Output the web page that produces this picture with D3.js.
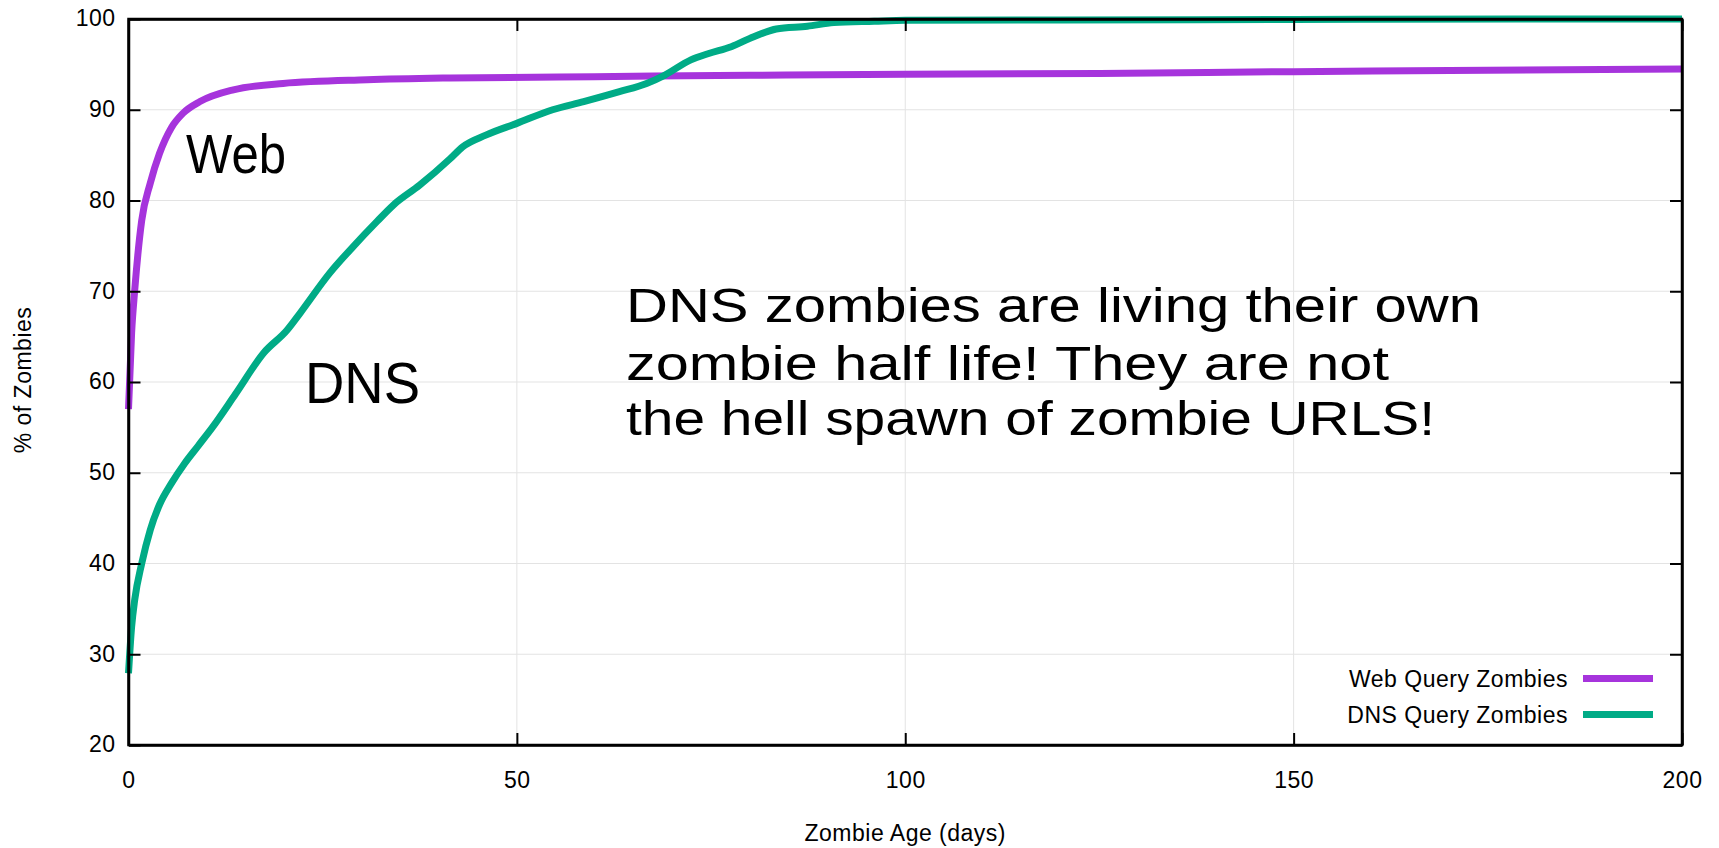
<!DOCTYPE html>
<html>
<head>
<meta charset="utf-8">
<script src="https://d3js.org/d3.v7.min.js"></script>
<style>
  html, body { margin: 0; padding: 0; background: #fff; }
  svg { display: block; }
  .lbl { font-family: "Liberation Sans", Arial, Helvetica, sans-serif; font-size: 23px; letter-spacing: 0.5px; fill: #000; }
  .hand { font-family: "Liberation Sans Narrow", "Liberation Sans", sans-serif; fill: #000; }
</style>
</head>
<body>
<svg id="chart" width="1719" height="848"></svg>
<script>
// ---- data ----
const webDays = [0, 0.4, 0.8, 1.7, 2.8, 4, 5.5, 7, 9.2, 13.5, 19.9, 30.7, 41.4, 60, 80, 100, 125, 150, 175, 200];
const webPct  = [57, 65.4, 70.1, 77.8, 81.9, 85.2, 88, 89.6, 90.9, 92.2, 92.9, 93.3, 93.5, 93.65, 93.8, 93.9, 94.0, 94.2, 94.35, 94.5];

const dnsDays = [0, 0.4, 0.8, 1.7, 2.8, 4, 5.5, 7.2, 9, 10.8, 13.8, 17.4, 20.4, 22.1, 25.9, 28.9, 32, 34.1, 37.5, 41.4, 43, 46, 50, 54.6, 58.6, 63.2, 66.7, 69, 72.4, 74.7, 77.6, 80.5, 83.4, 87.4, 90.8, 96, 100, 120, 150, 180, 200];
const dnsPct  = [27.9, 33, 36, 40, 43.7, 46.5, 48.8, 51, 53, 55, 58.7, 63.2, 65.7, 67.6, 72, 74.9, 77.7, 79.5, 81.7, 84.6, 85.9, 87.2, 88.5, 90, 90.9, 92, 92.9, 93.8, 95.5, 96.2, 96.95, 98.05, 98.9, 99.2, 99.6, 99.75, 99.85, 99.9, 99.95, 100, 100];

const xTicks = [0, 50, 100, 150, 200];
const yTicks = [20, 30, 40, 50, 60, 70, 80, 90, 100];

const seriesNames = ["Web Query Zombies", "DNS Query Zombies"];
const seriesColors = ["#a634dc", "#00ab86"];

const noteLines = ["DNS zombies are living their own", "zombie half life! They are not", "the hell spawn of zombie URLS!"];

// ---- layout ----
const svg = d3.select("#chart");
const L = 128.5, R = 1682, T = 19, B = 745;
const x = d3.scaleLinear().domain([0, 200]).range([L, R]);
const y = d3.scaleLinear().domain([20, 100]).range([B, T]);

// grid
const grid = svg.append("g");
grid.selectAll("line.gx").data(xTicks.slice(1, -1)).join("line")
  .attr("x1", d => x(d)).attr("x2", d => x(d)).attr("y1", T).attr("y2", B)
  .attr("stroke", "#e3e3e3").attr("stroke-width", 1);
grid.selectAll("line.gy").data(yTicks.slice(1, -1)).join("line")
  .attr("x1", L).attr("x2", R).attr("y1", d => y(d)).attr("y2", d => y(d))
  .attr("stroke", "#e3e3e3").attr("stroke-width", 1);

// lines
const line = d3.line().x(d => x(d[0])).y(d => y(d[1])).curve(d3.curveMonotoneX);
const webData = webDays.map((d, i) => [d, webPct[i]]);
const dnsData = dnsDays.map((d, i) => [d, dnsPct[i]]);
[webData, dnsData].forEach((data, i) => {
  svg.append("path").datum(data)
    .attr("d", line)
    .attr("fill", "none")
    .attr("stroke", seriesColors[i])
    .attr("stroke-width", 7)
    .attr("stroke-linejoin", "round")
    .attr("stroke-linecap", "butt");
});

// axes (inward ticks, on all four sides)
const fmt = d3.format("d");
const gB = svg.append("g").attr("transform", `translate(0,${B})`)
  .call(d3.axisBottom(x).tickValues(xTicks).tickFormat(fmt).tickSizeInner(-12).tickSizeOuter(0).tickPadding(27));
const gT = svg.append("g").attr("transform", `translate(0,${T})`)
  .call(d3.axisTop(x).tickValues(xTicks).tickFormat("").tickSizeInner(-12).tickSizeOuter(0));
const gL = svg.append("g").attr("transform", `translate(${L},0)`)
  .call(d3.axisLeft(y).tickValues(yTicks).tickFormat(fmt).tickSizeInner(-12).tickSizeOuter(0).tickPadding(13));
const gR = svg.append("g").attr("transform", `translate(${R},0)`)
  .call(d3.axisRight(y).tickValues(yTicks).tickFormat("").tickSizeInner(-12).tickSizeOuter(0));
[gB, gT, gL, gR].forEach(g => {
  g.select(".domain").attr("stroke", "#000").attr("stroke-width", 2.5);
  g.selectAll(".tick line").attr("stroke", "#000").attr("stroke-width", 2);
  g.selectAll(".tick text").attr("class", "lbl").attr("fill", "#000")
    .style("font-family", '"Liberation Sans", Arial, sans-serif').style("font-size", "23px").style("letter-spacing", "0.5px");
});
gL.selectAll(".tick text").attr("dy", "0.30em");
gB.selectAll(".tick text").attr("dy", "0.68em");
// frame
svg.append("rect").attr("x", L).attr("y", T).attr("width", R - L).attr("height", B - T)
  .attr("fill", "none").attr("stroke", "#000").attr("stroke-width", 2.5);

// axis titles
svg.append("text").attr("class", "lbl").attr("text-anchor", "middle")
  .attr("x", x(100)).attr("y", 841).text("Zombie Age (days)");
svg.append("text").attr("class", "lbl").attr("text-anchor", "middle")
  .attr("transform", "translate(31,380) rotate(-90)").text("% of Zombies");

// legend
const legY = [678.5, 714.5];
seriesNames.forEach((name, i) => {
  svg.append("text").attr("class", "lbl").attr("text-anchor", "end")
    .attr("x", 1568).attr("y", legY[i] + 8).text(name);
  svg.append("line").attr("x1", 1583).attr("x2", 1653).attr("y1", legY[i]).attr("y2", legY[i])
    .attr("stroke", seriesColors[i]).attr("stroke-width", 7);
});

// hand-written annotations
svg.append("text").attr("class", "hand").attr("x", 186).attr("y", 173)
  .attr("font-size", 56).attr("textLength", 100).attr("lengthAdjust", "spacingAndGlyphs").text("Web");
svg.append("text").attr("class", "hand").attr("x", 305).attr("y", 403)
  .attr("font-size", 58).attr("textLength", 115).attr("lengthAdjust", "spacingAndGlyphs").text("DNS");
const noteBase = [322, 380, 435];
const noteW = [855, 763, 809];
noteLines.forEach((t, i) => {
  svg.append("text").attr("class", "hand").attr("x", 626).attr("y", noteBase[i])
    .attr("font-size", 48).attr("textLength", noteW[i]).attr("lengthAdjust", "spacingAndGlyphs").text(t);
});
</script>
</body>
</html>
